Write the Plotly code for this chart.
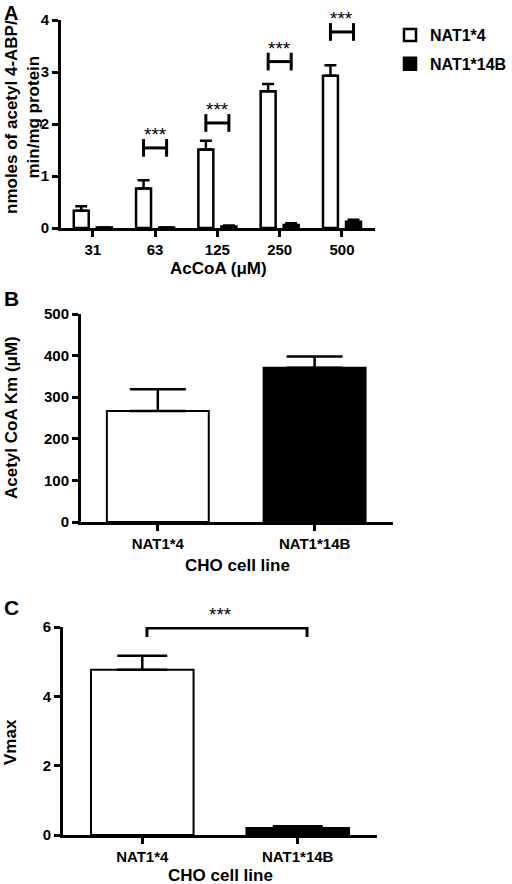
import plotly.graph_objects as go

# Panel A: activity vs AcCoA concentration
acoa = ["31", "63", "125", "250", "500"]
nat4_act = [0.33, 0.76, 1.51, 2.63, 2.93]
nat4_act_err = [0.09, 0.16, 0.17, 0.14, 0.20]
nat14b_act = [0.01, 0.01, 0.03, 0.06, 0.12]
nat14b_act_err = [0.0, 0.0, 0.02, 0.03, 0.04]
sig_y = [None, 1.54, 2.02, 3.20, 3.77]  # bracket heights, *** groups

# Panel B: Km
lines = ["NAT1*4", "NAT1*14B"]
km = [267, 371]
km_err = [52, 27]

# Panel C: Vmax
vmax = [4.77, 0.20]
vmax_err = [0.40, 0.05]
vmax_sig_y = 5.97

FONT = "Liberation Sans, Arial, sans-serif"
off = 0.185   # half distance between paired bars in panel A
bw = 0.24

fig = go.Figure()
ix = list(range(len(acoa)))

fig.add_trace(go.Bar(
    x=ix, y=nat4_act, width=bw, offset=-off - bw / 2, name="NAT1*4",
    marker=dict(color="white", line=dict(color="black", width=2.5)),
    error_y=dict(type="data", symmetric=False, array=nat4_act_err,
                 arrayminus=[0] * 5, color="black", thickness=2.5, width=6),
    xaxis="x", yaxis="y", legendgroup="a"))
fig.add_trace(go.Bar(
    x=ix, y=nat14b_act, width=bw, offset=off - bw / 2, name="NAT1*14B",
    marker=dict(color="black", line=dict(color="black", width=2.5)),
    error_y=dict(type="data", symmetric=False, array=nat14b_act_err,
                 arrayminus=[0] * 5, color="black", thickness=2.5, width=6),
    xaxis="x", yaxis="y", legendgroup="b"))

# significance brackets in panel A
for i, sy in enumerate(sig_y):
    if sy is None:
        continue
    x0, x1 = i - off, i + off
    h = 0.17
    fig.add_trace(go.Scatter(
        x=[x0, x0, None, x0, x1, None, x1, x1],
        y=[sy - h, sy + h, None, sy, sy, None, sy - h, sy + h],
        mode="lines", line=dict(color="black", width=3),
        showlegend=False, hoverinfo="skip", xaxis="x", yaxis="y"))
    fig.add_annotation(x=i, y=sy, xref="x", yref="y", text="***",
                       showarrow=False, yanchor="bottom", yshift=1,
                       font=dict(size=19, family=FONT, color="black"))

# Panel B
fig.add_trace(go.Bar(
    x=[0, 1], y=km, width=0.65, showlegend=False,
    marker=dict(color=["white", "black"], line=dict(color="black", width=2)),
    error_y=dict(type="data", symmetric=False, array=km_err, arrayminus=[0, 0],
                 color="black", thickness=2.5, width=28),
    xaxis="x2", yaxis="y2"))

# Panel C
fig.add_trace(go.Bar(
    x=[0, 1], y=vmax, width=0.66, showlegend=False,
    marker=dict(color=["white", "black"], line=dict(color="black", width=2)),
    error_y=dict(type="data", symmetric=False, array=vmax_err, arrayminus=[0, 0],
                 color="black", thickness=2.5, width=25),
    xaxis="x3", yaxis="y3"))
cx0, cx1, ch = 0.03, 1.06, 0.26
fig.add_trace(go.Scatter(
    x=[cx0, cx0, None, cx0, cx1, None, cx1, cx1],
    y=[vmax_sig_y - ch, vmax_sig_y + ch, None, vmax_sig_y, vmax_sig_y, None,
       vmax_sig_y - ch, vmax_sig_y + ch],
    mode="lines", line=dict(color="black", width=3),
    showlegend=False, hoverinfo="skip", xaxis="x3", yaxis="y3"))
fig.add_annotation(x=0.5, y=vmax_sig_y, xref="x3", yref="y3", text="***",
                   showarrow=False, yanchor="bottom", yshift=1,
                   font=dict(size=19, family=FONT, color="black"))

axis_common = dict(showline=True, linecolor="black", linewidth=3,
                   ticks="outside", ticklen=6, tickwidth=3, tickcolor="black",
                   showgrid=False, zeroline=False,
                   tickfont=dict(size=15, family=FONT, color="black", weight="bold"))

W, H = 512, 884
def px_x(a, b):
    return [a / W, b / W]
def px_y(top, bottom):
    return [1 - bottom / H, 1 - top / H]

fig.update_layout(
    width=W, height=H,
    margin=dict(l=0, r=0, t=0, b=0, autoexpand=False),
    plot_bgcolor="white", paper_bgcolor="white",
    barmode="overlay", showlegend=True,
    font=dict(family=FONT, color="black"),
    legend=dict(x=390 / W, y=1 - 18 / H, xanchor="left", yanchor="top",
                traceorder="grouped", tracegroupgap=5,
                font=dict(size=16, family=FONT, color="black", weight="bold")),
    xaxis=dict(domain=px_x(61, 375), range=[-0.51, 4.53], tickvals=ix,
               ticktext=acoa, anchor="y", **axis_common),
    yaxis=dict(domain=px_y(20, 228), range=[0, 4], dtick=1, anchor="x",
               **axis_common),
    xaxis2=dict(domain=px_x(81, 393), range=[-0.49, 1.5], tickvals=[0, 1],
                ticktext=lines, anchor="y2", **axis_common),
    yaxis2=dict(domain=px_y(314, 522), range=[0, 500], dtick=100, anchor="x2",
                **axis_common),
    xaxis3=dict(domain=px_x(63, 377), range=[-0.51, 1.51], tickvals=[0, 1],
                ticktext=lines, anchor="y3", **axis_common),
    yaxis3=dict(domain=px_y(627, 835), range=[0, 6], dtick=2, anchor="x3",
                **axis_common),
)

def note(text, x, y, size=17, angle=0):
    fig.add_annotation(text=text, x=x / W, y=1 - y / H, xref="paper", yref="paper",
                       showarrow=False, textangle=angle, xanchor="center",
                       yanchor="middle",
                       font=dict(size=size, family=FONT, color="black", weight="bold"))

note("nmoles of acetyl 4-ABP/<br>min/mg protein", 23, 117, size=17, angle=-90)
note("AcCoA (μM)", 218, 268)
note("Acetyl CoA Km (μM)", 11, 418, size=17, angle=-90)
note("CHO cell line", 237, 565)
note("Vmax", 10, 742, size=17, angle=-90)
note("CHO cell line", 220, 875)
note("A", 11, 13, size=20)
note("B", 11, 298, size=21)
note("C", 11, 607, size=21)

# drop the default page margin so the figure sits at the window's corner
fig.write_html("out.html", config={"displayModeBar": False},
               post_script="document.body.style.margin='0';")
